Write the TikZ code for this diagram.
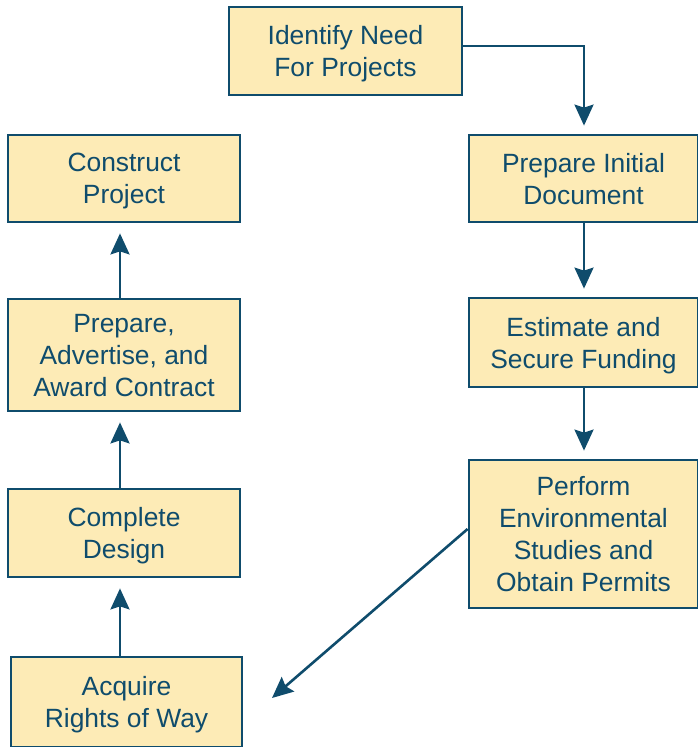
\documentclass[tikz,border=0pt]{standalone}
\usepackage{fontspec}
\setmainfont{Liberation Sans}
\usetikzlibrary{arrows.meta}
\definecolor{boxfill}{HTML}{FDEBB6}
\definecolor{ink}{HTML}{0F4C6C}
\tikzset{
  stepbox/.style={draw=ink, line width=2.8pt, fill=boxfill, text=ink, align=center,
    inner sep=0pt, text depth=0pt, font=\fontsize{26.4pt}{32pt}\selectfont},
  flow/.style={draw=ink, line width=2.6pt, -{Stealth[length=21pt,width=19pt,inset=3pt]}}
}
\begin{document}
\begin{tikzpicture}[x=1pt,y=1pt]
\useasboundingbox (0,0) rectangle (697,-747);
\node[stepbox, minimum width=233pt, minimum height=88pt] (need) at (345.5,-51) {Identify Need\\For Projects};
\node[stepbox, minimum width=229pt, minimum height=87pt] (initial) at (583.5,-178.5) {Prepare Initial\\Document};
\node[stepbox, minimum width=229pt, minimum height=89pt] (fund) at (583.5,-342.5) {Estimate and\\Secure Funding};
\node[stepbox, minimum width=229pt, minimum height=148pt] (env) at (583.5,-534) {Perform\\Environmental\\Studies and\\Obtain Permits};
\node[stepbox, minimum width=232pt, minimum height=87pt] (construct) at (124,-178.5) {Construct\\Project};
\node[stepbox, minimum width=232pt, minimum height=112pt] (contract) at (124,-355) {Prepare,\\Advertise, and\\Award Contract};
\node[stepbox, minimum width=232pt, minimum height=88pt] (design) at (124,-533) {Complete\\Design};
\node[stepbox, minimum width=231pt, minimum height=90pt] (row) at (126.5,-702) {Acquire\\Rights of Way};
\coordinate (rowtip) at (272,-698);
\coordinate (needturn) at (584,-46);
\draw[flow, shorten >=8pt] (need.east |- needturn) -- (needturn) -- (initial.north -| needturn);
\draw[flow, shorten >=8pt] (initial.south -| needturn) -- (fund.north -| needturn);
\draw[flow, shorten >=8pt] (fund.south -| needturn) -- (env.north -| needturn);
\draw[flow] ([yshift=5pt]env.west) -- (rowtip);
\draw[flow, shorten >=10pt] (row.north -| 120,0) -- (design.south -| 120,0);
\draw[flow, shorten >=10pt] (design.north -| 120,0) -- (contract.south -| 120,0);
\draw[flow, shorten >=10pt] (contract.north -| 120,0) -- (construct.south -| 120,0);
\end{tikzpicture}
\end{document}
